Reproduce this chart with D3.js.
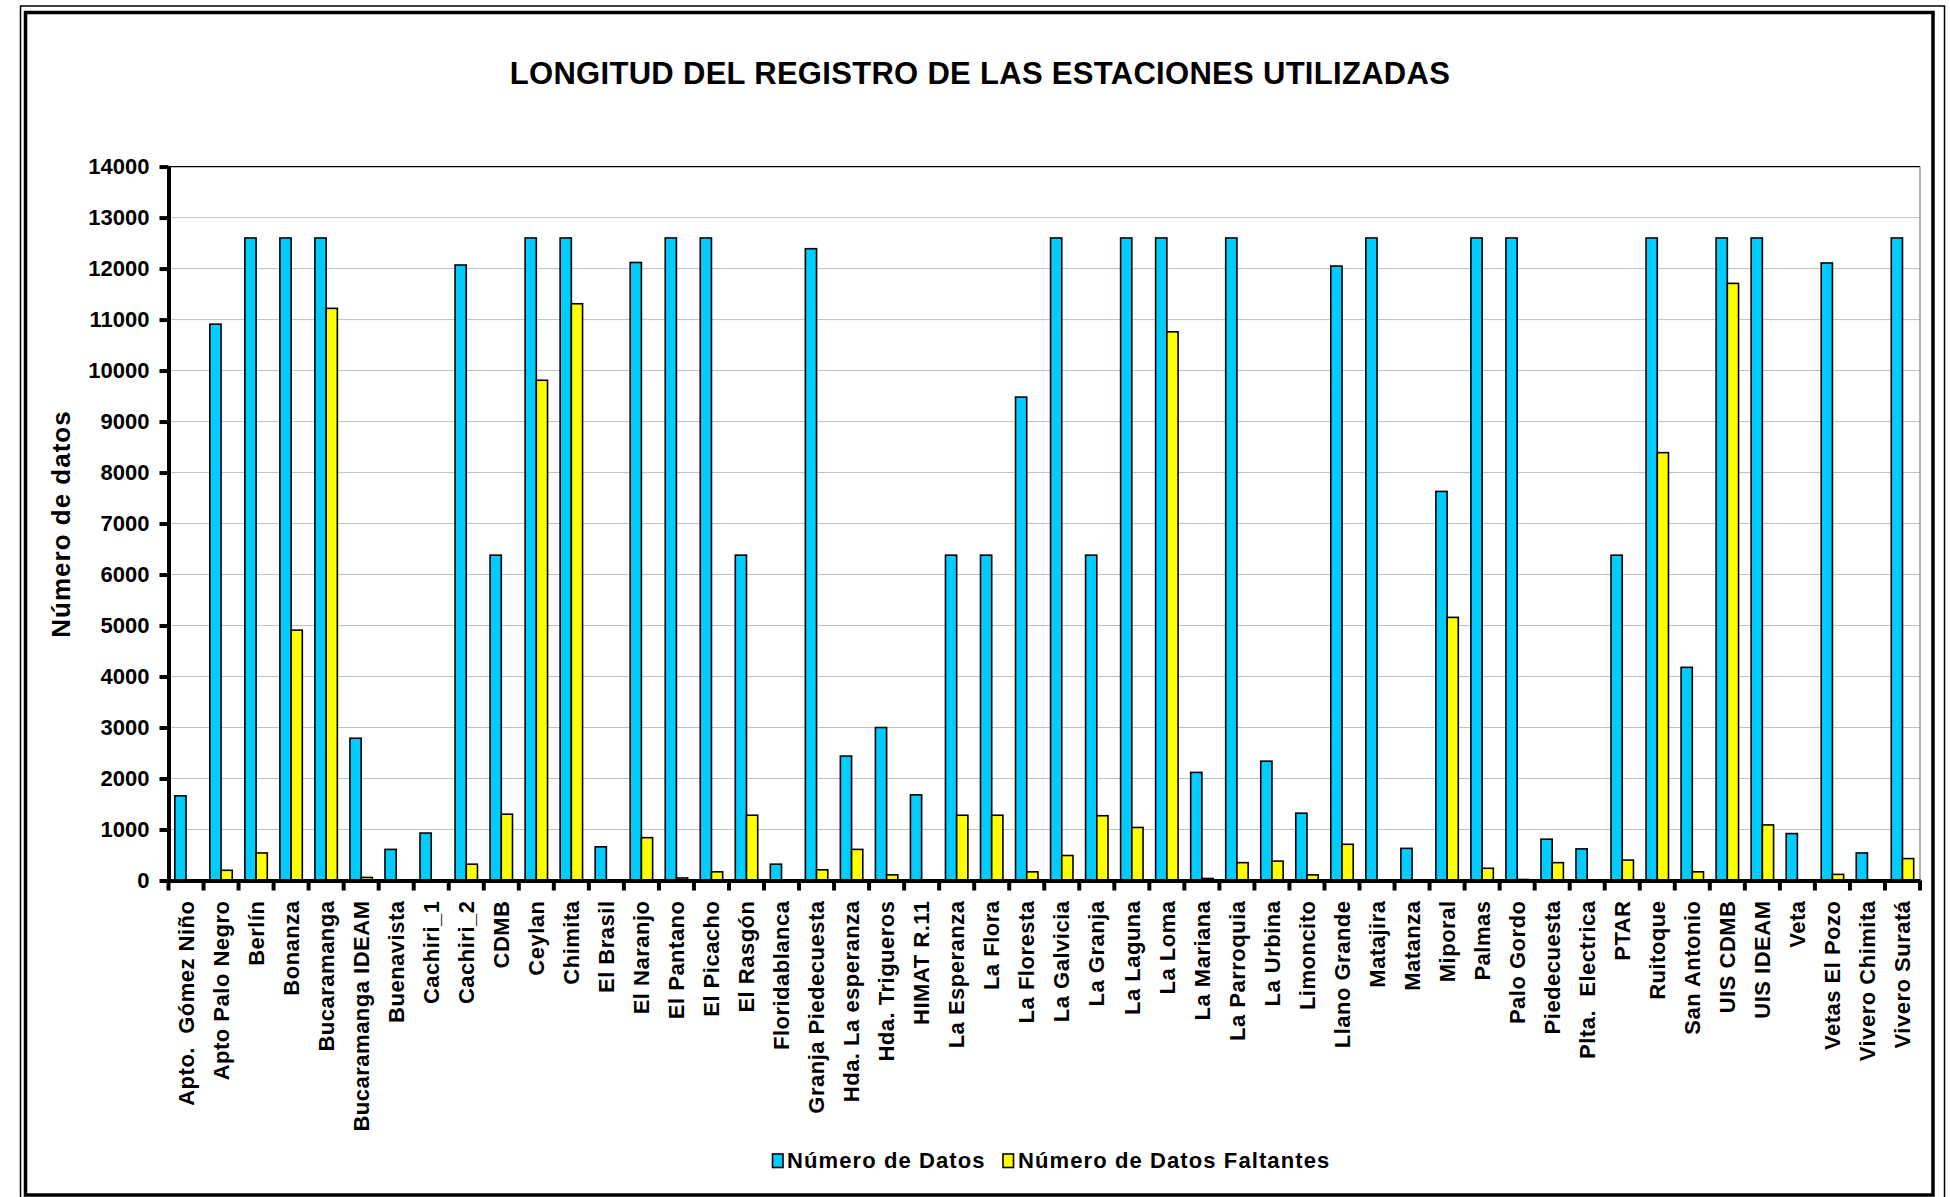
<!DOCTYPE html>
<html>
<head>
<meta charset="utf-8">
<script src="https://cdn.jsdelivr.net/npm/d3@7"></script>
<style>
  body { margin: 0; background: #fff; }
  svg text { font-family: "Liberation Sans", Arial, sans-serif; font-weight: bold; fill: #000; }
</style>
</head>
<body>
<div id="chart"></div>
<script>
// data
var estaciones = ["Apto.  Gómez Niño", "Apto Palo Negro", "Berlín", "Bonanza", "Bucaramanga",
  "Bucaramanga IDEAM", "Buenavista", "Cachiri_1", "Cachiri_2", "CDMB", "Ceylan", "Chimita",
  "El Brasil", "El Naranjo", "El Pantano", "El Picacho", "El Rasgón", "Floridablanca",
  "Granja Piedecuesta", "Hda. La esperanza", "Hda. Trigueros", "HIMAT R.11", "La Esperanza",
  "La Flora", "La Floresta", "La Galvicia", "La Granja", "La Laguna", "La Loma", "La Mariana",
  "La Parroquia", "La Urbina", "Limoncito", "Llano Grande", "Matajira", "Matanza", "Miporal",
  "Palmas", "Palo Gordo", "Piedecuesta", "Plta.  Electrica", "PTAR", "Ruitoque", "San Antonio",
  "UIS CDMB", "UIS IDEAM", "Veta", "Vetas El Pozo", "Vivero Chimita", "Vivero Suratá"];

var numeroDatos = [1660, 10910, 12600, 12600, 12600, 2790, 610, 930, 12070, 6380,
  12600, 12600, 660, 12120, 12600, 12600, 6380, 320, 12390, 2440,
  3000, 1680, 6380, 6380, 9480, 12600, 6380, 12600, 12600, 2120,
  12600, 2340, 1320, 12050, 12600, 630, 7630, 12600, 12600, 810,
  620, 6380, 12600, 4180, 12600, 12600, 920, 12110, 540, 12600];

var datosFaltantes = [0, 200, 540, 4910, 11220, 60, 0, 10, 320, 1300,
  9810, 11310, 0, 840, 50, 170, 1280, 0, 210, 610,
  110, 0, 1280, 1280, 170, 490, 1270, 1040, 10760, 40,
  350, 380, 110, 710, 0, 0, 5160, 240, 20, 350,
  0, 400, 8390, 170, 11710, 1090, 0, 120, 0, 430];

var series = ["Número de Datos", "Número de Datos Faltantes"];
var colores = ["#00CCFF", "#FFFF00"];
var yTicks = d3.range(0, 14001, 1000);

var W = 1950, H = 1197;
var plot = {left: 168.5, right: 1920, top: 166.6, bottom: 880.5};

var svg = d3.select("#chart").append("svg")
  .attr("width", W)
  .attr("height", H);

// frame (double border)
svg.append("rect")
  .attr("x", 20.5).attr("y", 6).attr("width", 1924).attr("height", 1200)
  .style("fill", "none").style("stroke", "#000").style("stroke-width", 1.5);
svg.append("rect")
  .attr("x", 25.5).attr("y", 12.5).attr("width", 1907.5).attr("height", 1182.5)
  .style("fill", "none").style("stroke", "#000").style("stroke-width", 3.5);

var x = d3.scaleBand()
  .domain(estaciones)
  .range([plot.left, plot.right])
  .padding(0);

var y = d3.scaleLinear()
  .domain([0, 14000])
  .range([plot.bottom, plot.top]);

// gridlines
svg.append("g")
  .selectAll("line")
  .data(yTicks.filter(function(d) { return d > 0 && d < 14000; }))
  .enter().append("line")
  .attr("x1", plot.left).attr("x2", plot.right)
  .attr("y1", function(d) { return y(d); })
  .attr("y2", function(d) { return y(d); })
  .style("stroke", "#c0c0c0").style("stroke-width", 1);

// top and right border of plot area
svg.append("line")
  .attr("x1", plot.left).attr("x2", plot.right)
  .attr("y1", y(14000)).attr("y2", y(14000))
  .style("stroke", "#000").style("stroke-width", 1.2);
svg.append("line")
  .attr("x1", plot.right).attr("x2", plot.right)
  .attr("y1", y(14000)).attr("y2", y(0))
  .style("stroke", "#808080").style("stroke-width", 1.2);

// bars
var bw = x.bandwidth() * 0.32;
var grupos = svg.append("g")
  .selectAll("g")
  .data(estaciones)
  .enter().append("g");

grupos.append("rect")
  .attr("x", function(d) { return x(d) + x.bandwidth() / 2 - bw; })
  .attr("y", function(d, i) { return y(numeroDatos[i]); })
  .attr("width", bw)
  .attr("height", function(d, i) { return y(0) - y(numeroDatos[i]); })
  .style("fill", colores[0]).style("stroke", "#000").style("stroke-width", 1.6);

grupos.append("rect")
  .attr("x", function(d) { return x(d) + x.bandwidth() / 2; })
  .attr("y", function(d, i) { return y(datosFaltantes[i]); })
  .attr("width", bw)
  .attr("height", function(d, i) { return y(0) - y(datosFaltantes[i]); })
  .style("fill", colores[1]).style("stroke", "#000").style("stroke-width", 1.6);

// y axis
var yAxis = svg.append("g")
  .attr("transform", "translate(" + plot.left + ",0)")
  .call(d3.axisLeft(y).tickValues(yTicks).tickFormat(d3.format("d"))
    .tickSize(9).tickSizeOuter(0).tickPadding(10));
yAxis.select(".domain").style("stroke", "#000").style("stroke-width", 4);
yAxis.selectAll(".tick line").style("stroke", "#000").style("stroke-width", 4);
yAxis.selectAll("text")
  .style("font-size", "22px")
  .style("font-family", "'Liberation Sans', Arial, sans-serif")
  .style("font-weight", "bold");

// x axis
var xAxis = svg.append("g")
  .attr("transform", "translate(0," + plot.bottom + ")")
  .call(d3.axisBottom(x).tickSize(0).tickSizeOuter(0));
xAxis.select(".domain").style("stroke", "#000").style("stroke-width", 4);
xAxis.selectAll(".tick text")
  .attr("transform", "rotate(-90)")
  .attr("text-anchor", "end")
  .attr("x", -20)
  .attr("y", 0)
  .attr("dy", "0.35em")
  .style("font-size", "22px")
  .style("letter-spacing", "0.5px")
  .style("font-family", "'Liberation Sans', Arial, sans-serif")
  .style("font-weight", "bold")
  .style("white-space", "pre");

// tick marks between categories
var bordes = estaciones.map(function(d) { return x(d); }).concat([x.range()[1]]);
svg.append("g")
  .selectAll("line")
  .data(bordes)
  .enter().append("line")
  .attr("x1", function(d) { return d; })
  .attr("x2", function(d) { return d; })
  .attr("y1", plot.bottom)
  .attr("y2", plot.bottom + 10)
  .style("stroke", "#000").style("stroke-width", 4);

// title
svg.append("text")
  .attr("x", 980)
  .attr("y", 84)
  .attr("text-anchor", "middle")
  .style("font-size", "31px")
  .style("letter-spacing", "0.3px")
  .text("LONGITUD DEL REGISTRO DE LAS ESTACIONES UTILIZADAS");

// y axis label
svg.append("text")
  .attr("transform", "translate(70,524) rotate(-90)")
  .attr("text-anchor", "middle")
  .style("font-size", "26px")
  .style("letter-spacing", "1px")
  .text("Número de datos");

// legend
var leyenda = [
  {x: 772.5, tx: 787},
  {x: 1003, tx: 1018}
];
leyenda.forEach(function(l, i) {
  svg.append("rect")
    .attr("x", l.x).attr("y", 1154)
    .attr("width", 10.5).attr("height", 13.5)
    .style("fill", colores[i]).style("stroke", "#000").style("stroke-width", 1.6);
  svg.append("text")
    .attr("x", l.tx).attr("y", 1168)
    .style("font-size", "22px")
    .style("letter-spacing", "1.1px")
    .text(series[i]);
});
</script>
</body>
</html>
